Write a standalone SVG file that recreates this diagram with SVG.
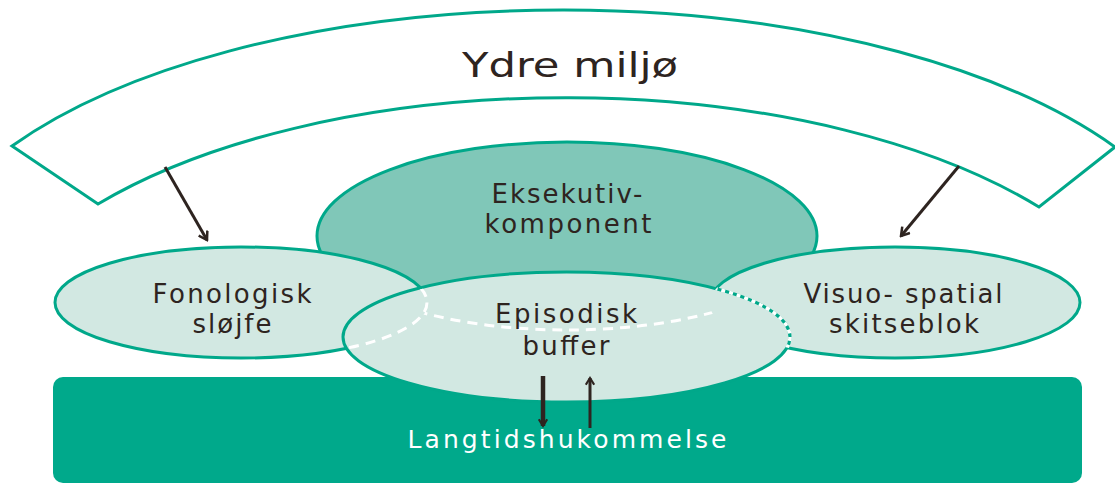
<svg xmlns="http://www.w3.org/2000/svg" width="1115" height="483" viewBox="0 0 1115 483">
<style>
.teal{stroke:#00a88a;stroke-width:3}
.light{fill:#d2e8e2}
.lbl{font-family:"DejaVu Sans","Open Sans",sans-serif;fill:#2e2420;text-anchor:middle}
.wdash{fill:none;stroke:#ffffff;stroke-width:3;stroke-dasharray:10 7}
.arr{stroke:#2e2420;fill:none}
</style>
<defs>
<marker id="ah" viewBox="0 0 12 12" refX="10" refY="6" markerWidth="12" markerHeight="12" markerUnits="userSpaceOnUse" orient="auto">
<path d="M2,1 L10,6 L2,11" fill="none" stroke="#2e2420" stroke-width="2.5"/>
</marker>
<marker id="ah2" viewBox="0 0 12 12" refX="10" refY="6" markerWidth="10" markerHeight="10" markerUnits="userSpaceOnUse" orient="auto">
<path d="M2,1 L10,6 L2,11" fill="none" stroke="#2e2420" stroke-width="2.5"/>
</marker>
<clipPath id="epiIn"><ellipse cx="566.5" cy="337" rx="222" ry="63.5"/></clipPath>
<clipPath id="visIn"><ellipse cx="895" cy="302.5" rx="185" ry="55.5"/></clipPath>
<mask id="execMask" maskUnits="userSpaceOnUse" x="0" y="0" width="1115" height="483">
<ellipse cx="566.5" cy="337" rx="222" ry="63.5" fill="#fff"/>
<ellipse cx="241" cy="302.5" rx="187" ry="56.5" fill="#000"/>
<ellipse cx="895" cy="302.5" rx="186" ry="56.5" fill="#000"/>
</mask>
</defs>

<g id="ydre-miljo">
<path class="teal" fill="#fff" d="M12,146 A650 290 0 0 1 1115,147 L1039,207 A595 278 0 0 0 98,204 Z"/>
<text class="lbl" x="570" y="77" font-size="34" textLength="216" lengthAdjust="spacingAndGlyphs">Ydre miljø</text>
</g>

<g id="langtidshukommelse">
<rect x="53" y="377" width="1029" height="106" rx="10" fill="#00a98b"/>
<text x="567" y="448" font-family="DejaVu Sans, Open Sans, sans-serif" font-size="25" fill="#fff" text-anchor="middle" textLength="319">Langtidshukommelse</text>
</g>

<g id="eksekutiv">
<ellipse class="teal" cx="567" cy="236" rx="250" ry="94" fill="#80c7b8"/>
<text class="lbl" x="567" y="203" font-size="26" textLength="151">Eksekutiv-</text>
<text class="lbl" x="568" y="233" font-size="26" textLength="167">komponent</text>
</g>

<g id="fonologisk">
<ellipse class="teal light" cx="241" cy="302.5" rx="186" ry="55.5"/>
<text class="lbl" x="232" y="303" font-size="26" textLength="159">Fonologisk</text>
<text class="lbl" x="232" y="333" font-size="26" textLength="79">sløjfe</text>
</g>

<g id="visuo">
<ellipse class="teal light" cx="895" cy="302.5" rx="185" ry="55.5"/>
<text class="lbl" x="903" y="303" font-size="26" textLength="199">Visuo- spatial</text>
<text class="lbl" x="904" y="333" font-size="26" textLength="150">skitseblok</text>
</g>

<g id="episodisk">
<ellipse class="teal light" cx="566.5" cy="337" rx="223.5" ry="65"/>
<ellipse class="wdash" cx="241" cy="302.5" rx="186" ry="55.5" clip-path="url(#epiIn)"/>
<ellipse class="wdash" cx="567" cy="236" rx="250" ry="94" mask="url(#execMask)"/>
<ellipse cx="566.5" cy="337" rx="223.5" ry="65" fill="none" stroke="#fff" stroke-width="3.5" stroke-dasharray="4 4" clip-path="url(#visIn)"/>
<text class="lbl" x="566" y="323" font-size="26" textLength="142">Episodisk</text>
<text class="lbl" x="566" y="355" font-size="26" textLength="87">buffer</text>
</g>

<g id="connectors">
<line class="arr" x1="165" y1="167" x2="207" y2="240" stroke-width="3" marker-end="url(#ah)"/>
<line class="arr" x1="959" y1="166" x2="901" y2="236" stroke-width="3" marker-end="url(#ah)"/>
<line class="arr" x1="543" y1="376" x2="543" y2="426" stroke-width="4.5" marker-end="url(#ah2)"/>
<line class="arr" x1="590" y1="428" x2="590" y2="378" stroke-width="3" marker-end="url(#ah2)"/>
</g>
</svg>
